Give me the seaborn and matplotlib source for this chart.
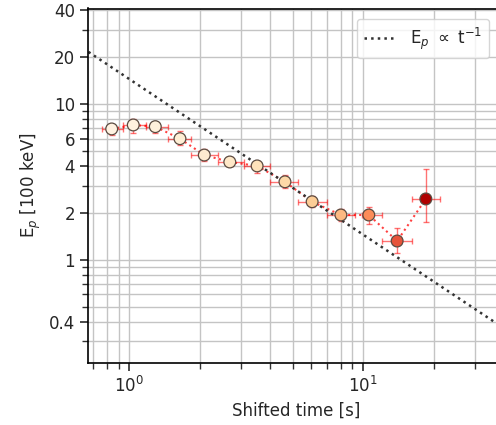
import numpy as np
import pandas as pd
import matplotlib
matplotlib.use("Agg")
import matplotlib.pyplot as plt
import seaborn as sns
from matplotlib.ticker import FixedLocator, FixedFormatter, LogLocator, NullFormatter, LogFormatterMathtext

# ---- data ----
t_mid = [0.841, 1.040, 1.292, 1.647, 2.092, 2.69, 3.52, 4.63, 6.05, 8.03, 10.57, 13.97, 18.53]
t_lo = [0.764, 0.944, 1.179, 1.464, 1.844, 2.393, 3.09, 3.99, 5.26, 6.98, 9.84, 12.02, 16.1]
t_hi = [0.944, 1.179, 1.464, 1.844, 2.393, 3.09, 3.99, 5.26, 6.98, 9.21, 12.02, 16.1, 21.4]
ep = [6.93, 7.35, 7.17, 6.00, 4.71, 4.25, 4.01, 3.17, 2.36, 1.94, 1.94, 1.32, 2.46]
ep_lo = [6.31, 6.56, 6.56, 5.49, 4.29, 3.99, 3.60, 2.89, 2.18, 1.77, 1.69, 1.11, 1.76]
ep_hi = [7.38, 8.07, 7.68, 6.69, 5.17, 4.57, 4.27, 3.51, 2.57, 2.12, 2.17, 1.59, 3.81]

model_norm = 14.5          # E_p = A * t^-1  (100 keV, s)
model_t = [0.6, 50.0]

ytick_vals = [0.4, 1, 2, 4, 6, 10, 20, 40]
ytick_labels = ["0.4", "1", "2", "4", "6", "10", "20", "40"]

df = pd.DataFrame({"t": t_mid, "ep": ep})
mt = np.array(model_t)
model_df = pd.DataFrame({"t": mt, "ep": model_norm / mt})

# ---- figure ----
sns.set_theme(style="ticks")
plt.rcParams["font.family"] = ["DejaVu Sans"]
plt.rcParams["font.size"] = 12

fig = plt.figure(figsize=(4.96, 4.25), dpi=100)
ax = fig.add_axes([88.3 / 496, 1 - 362.7 / 425, (504 - 88.3) / 496, (362.7 - 8.5) / 425])
ax.set_xscale("log")
ax.set_yscale("log")

tm = np.array(t_mid)
xerr = np.vstack([tm - np.array(t_lo), np.array(t_hi) - tm])
em = np.array(ep)
yerr = np.vstack([em - np.array(ep_lo), np.array(ep_hi) - em])

# connecting dotted red line
sns.lineplot(data=df, x="t", y="ep", ax=ax, color="red", linestyle=":", linewidth=1.5,
             alpha=0.75, sort=False, legend=False, zorder=2)
ax.errorbar(tm, em, xerr=xerr, yerr=yerr, fmt="none", ecolor="red", alpha=0.55,
            elinewidth=1.0, capsize=2, capthick=1.0, zorder=2)
sns.scatterplot(data=df, x="t", y="ep", hue="t", palette="OrRd", hue_norm=(0, 21),
                s=72, edgecolor="#5a4a40", linewidth=0.9, ax=ax, legend=False, zorder=3)

sns.lineplot(data=model_df, x="t", y="ep", ax=ax, color="#333333", linestyle=":",
             linewidth=1.8, label=r"E$_p$ $\propto$ t$^{-1}$", zorder=2.5)

ax.set_xlim(0.668, 40)
ax.set_ylim(0.218, 41.2)

ax.yaxis.set_major_locator(FixedLocator(ytick_vals))
ax.yaxis.set_major_formatter(FixedFormatter(ytick_labels))
ax.yaxis.set_minor_locator(LogLocator(base=10, subs=np.arange(1, 10) * 1.0, numticks=20))
ax.yaxis.set_minor_formatter(NullFormatter())
ax.xaxis.set_major_locator(LogLocator(base=10, numticks=10))
ax.xaxis.set_major_formatter(LogFormatterMathtext())
ax.xaxis.set_minor_locator(LogLocator(base=10, subs=np.arange(2, 10) * 1.0, numticks=20))
ax.xaxis.set_minor_formatter(NullFormatter())

ax.grid(True, which="both", color="#c4c4c4", linewidth=1.0)
ax.set_axisbelow(True)
for sp in ax.spines.values():
    sp.set_color("black")
    sp.set_linewidth(1.2)
ax.tick_params(which="both", labelsize=12, color="#333333")

ax.set_xlabel("Shifted time [s]", fontsize=12)
ax.set_ylabel(r"E$_p$ [100 keV]", fontsize=12)

ax.legend(loc="upper right", bbox_to_anchor=(0.985, 0.995), fontsize=12, frameon=True)

fig.savefig("out.png", dpi=100)
